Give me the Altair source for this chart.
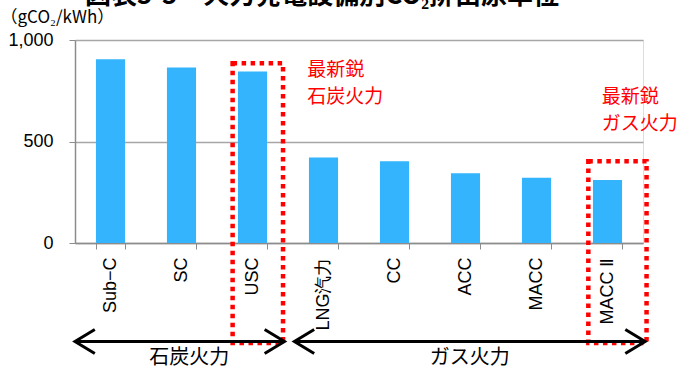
import altair as alt
import pandas as pd

categories = ["Sub−C", "SC", "USC", "LNG汽力", "CC", "ACC", "MACC", "MACC Ⅱ"]
values = [905, 865, 845, 421, 403, 344, 321, 310]

# red dotted highlight boxes (x in category-index units, y in gCO2/kWh units)
box_x0 = [2.22, 7.23]
box_x1 = [2.93, 8.05]
box_top = [885, 403]
box_bottom = [-492, -492]

# group arrows
arrow_x0 = [0.0, 3.09]
arrow_x1 = [2.95, 8.03]
arrow_y = [-485, -485]
group_labels = ["石炭火力", "ガス火力"]
group_label_x = [1.61, 5.56]
group_label_y = [-567, -567]

# red annotations
note_text = [["最新鋭", "石炭火力"], ["最新鋭", "ガス火力"]]
note_x = [3.27, 7.42]
note_y = [895, 765]

# figure title (cut off at the top edge in the reference)
title_text = ["図表5-5　火力発電設備別CO₂排出原単位"]
title_x = [0.14]
title_y = [1175]

W, H = 568, 203
JP = "Noto Sans CJK JP"
LAT = "Liberation Sans"

bars_df = pd.DataFrame({"cat": categories, "val": values})
box_df = pd.DataFrame({"x0": box_x0, "x1": box_x1, "top": box_top, "bottom": box_bottom})
arr_df = pd.DataFrame({"x0": arrow_x0, "x1": arrow_x1, "y": arrow_y})
ends_df = pd.DataFrame({
    "x": arrow_x0 + arrow_x1,
    "y": arrow_y + arrow_y,
    "side": ["L", "L", "R", "R"],
})
grp_df = pd.DataFrame({"label": group_labels, "x": group_label_x, "y": group_label_y})
note_df = pd.DataFrame({"lines": note_text, "x": note_x, "y": note_y})
title_df = pd.DataFrame({"ttl": title_text, "x": title_x, "y": title_y})

yscale = alt.Scale(domain=[0, 1000])
xq = alt.Scale(domain=[0, 8])

bars = alt.Chart(bars_df).mark_bar(color="#33B4FD").encode(
    x=alt.X("cat:N", sort=categories,
            scale=alt.Scale(paddingInner=0.59, paddingOuter=0.295),
            axis=alt.Axis(title=None, labelAngle=270, orient="bottom",
                          labelFont=LAT, labelFontSize=18,
                          labelColor="black", labelPadding=8, tickBand="extent",
                          tickSize=6, tickColor="#8c8c8c", domainColor="#8c8c8c",
                          domainWidth=1.5, labelFontWeight="normal")),
    y=alt.Y("val:Q", scale=yscale,
            axis=alt.Axis(values=[0, 500, 1000], labelExpr="format(datum.value, ',')",
                          title="（gCO₂/kWh）",
                          titleAngle=0, titleX=-75, titleY=-23, titleAlign="left",
                          titleBaseline="middle", titleFont=JP, titleFontSize=17,
                          titleFontWeight="normal", titleColor="black",
                          labelFont=LAT, labelFontSize=18, labelColor="black",
                          labelPadding=16, tickSize=6, tickColor="#8c8c8c",
                          domainColor="#8c8c8c", domainWidth=1.5,
                          grid=True, gridColor="#a6a6a6", gridWidth=1.5)),
)

boxes = alt.Chart(box_df).mark_rect(fill=None, fillOpacity=0, stroke="#FF0000",
                                    strokeWidth=4.5, strokeDash=[4.5, 4.5], clip=False).encode(
    x=alt.X("x0:Q", scale=xq, axis=None), x2="x1:Q",
    y=alt.Y("top:Q", scale=yscale), y2="bottom:Q",
)

arrows = alt.Chart(arr_df).mark_rule(color="black", strokeWidth=3, clip=False).encode(
    x=alt.X("x0:Q", scale=xq, axis=None), x2="x1:Q",
    y=alt.Y("y:Q", scale=yscale),
)

heads = alt.Chart(ends_df).mark_point(filled=False, stroke="black", strokeWidth=3,
                                      size=576, opacity=1, clip=False).encode(
    x=alt.X("x:Q", scale=xq, axis=None),
    y=alt.Y("y:Q", scale=yscale),
    shape=alt.Shape("side:N", legend=None,
                    scale=alt.Scale(domain=["L", "R"],
                                    range=["M 1.65 -1 L 0 0 L 1.65 1",
                                           "M -1.65 -1 L 0 0 L -1.65 1"])),
)

grp = alt.Chart(grp_df).mark_text(font=JP, fontSize=20, color="black", clip=False).encode(
    x=alt.X("x:Q", scale=xq, axis=None),
    y=alt.Y("y:Q", scale=yscale),
    text="label:N",
)

notes = alt.Chart(note_df).mark_text(font=JP, fontSize=19, color="#FF0000", align="left",
                                     baseline="top", lineHeight=27, clip=False).encode(
    x=alt.X("x:Q", scale=xq, axis=None),
    y=alt.Y("y:Q", scale=yscale),
    text="lines",
)

ttl = alt.Chart(title_df).mark_text(font=JP, fontSize=26, fontWeight="bold", color="black",
                                    align="left", baseline="alphabetic", clip=False).encode(
    x=alt.X("x:Q", scale=xq, axis=None),
    y=alt.Y("y:Q", scale=yscale),
    text="ttl:N",
)

chart = alt.layer(bars, boxes, arrows, heads, grp, notes, ttl).resolve_scale(
    x="independent"
).properties(
    width=W, height=H,
    autosize=alt.AutoSizeParams(type="none"),
    padding={"left": 75, "top": 40, "right": 40, "bottom": 129},
).configure_view(stroke=None).configure(background="white")

chart.save("out.html", embed_options={"renderer": "svg", "actions": False})
